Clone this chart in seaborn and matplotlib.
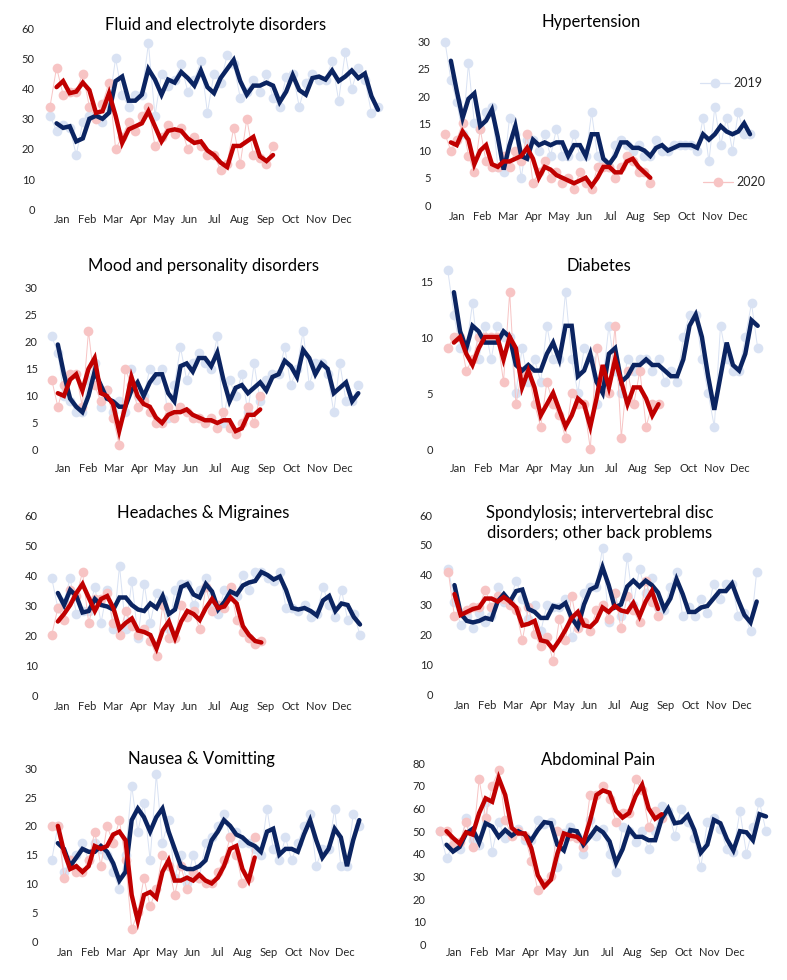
import numpy as np
import pandas as pd
import matplotlib
matplotlib.use("Agg")
import matplotlib.pyplot as plt
import seaborn as sns
from matplotlib.lines import Line2D

sns.set_theme(style="white")
plt.rcParams['font.family'] = ['Lato', 'DejaVu Sans']

MONTHS = ["Jan", "Feb", "Mar", "Apr", "May", "Jun", "Jul", "Aug", "Sep", "Oct", "Nov", "Dec"]

fluid_2019 = [31,26,28,27,18,29,31,31,29,35,50,38,34,38,38,55,31,45,41,43,48,39,43,49,32,45,42,51,48,37,
              39,43,39,45,37,34,44,45,34,42,45,43,43,49,36,52,40,47,43,32,34]
fluid_2020 = [34,47,38,39,39,45,34,30,35,42,20,24,29,26,31,34,21,24,28,25,27,20,24,21,18,18,13,15,27,15,
              30,18,17,15,21]

hyper_2019 = [30,23,19,13,26,15,14,17,18,7,6,16,13,5,12,12,10,13,9,14,9,9,13,9,9,17,9,8,7,11,
              12,11,10,11,9,9,12,10,10,11,11,11,11,10,16,8,18,11,16,10,17,13,13]
hyper_2020 = [13,10,12,15,9,6,14,8,7,7,9,7,10,8,13,4,6,8,5,6,4,5,3,6,4,3,7,7,7,5,7,9,8,6,6,4]

mood_2019 = [21,18,10,9,7,7,13,16,8,11,7,9,7,15,10,10,15,13,15,6,12,19,13,16,18,16,15,21,5,13,
             10,14,7,16,9,13,14,14,19,12,15,22,12,16,16,14,7,16,9,9,12]
mood_2020 = [13,8,12,14,14,8,22,12,9,11,6,1,15,12,8,9,7,5,5,8,6,8,7,6,6,5,6,4,7,4,3,5,8,5,10]

diab_2019 = [16,12,9,9,13,8,11,8,11,10,10,5,9,6,8,6,11,8,8,14,8,5,9,8,4,6,11,7,5,8,
             7,8,8,7,8,6,7,6,10,12,12,8,5,2,11,8,7,7,10,13,9]
diab_2020 = [9,10,10,7,8,10,10,10,10,6,14,4,7,7,4,2,6,4,3,1,5,4,4,0,9,6,5,11,1,7,4,7,2,4,4]

head_2019 = [39,29,31,39,27,28,28,36,24,35,22,43,22,38,19,37,24,34,32,22,35,37,37,30,35,39,30,27,35,34,
             33,40,35,41,41,39,38,41,29,29,28,30,26,27,36,30,26,35,25,27,20]
head_2020 = [20,29,25,35,33,41,24,32,32,34,24,20,28,23,20,22,18,13,30,19,19,30,26,28,22,36,28,30,29,36,
             25,21,19,17,18]

spond_2019 = [42,31,23,26,22,27,24,26,36,31,31,38,32,25,30,21,30,29,29,32,19,26,34,36,36,49,24,34,26,46,
              30,42,34,39,29,28,36,41,26,29,26,32,27,37,32,37,37,26,27,21,41]
spond_2020 = [41,26,27,28,29,29,35,29,33,32,30,28,18,29,20,16,19,11,25,18,33,22,24,21,28,30,25,34,22,33,
              28,24,38,31,26]

naus_2019 = [14,20,12,14,15,17,14,17,16,15,12,9,15,27,19,24,14,29,17,21,11,15,10,15,11,17,18,20,22,18,
             19,17,17,16,15,23,16,14,18,14,17,20,22,13,16,16,23,13,13,22,20]
naus_2020 = [20,20,11,14,12,12,14,19,13,20,17,21,14,2,5,11,6,9,15,13,8,13,9,12,11,10,10,12,14,18,
             15,10,11,18]

abd_2019 = [50,38,44,42,56,46,44,63,41,54,47,49,51,46,46,55,53,54,34,49,52,48,40,55,48,51,40,32,52,50,
            45,50,42,50,61,59,48,60,54,47,34,54,56,51,42,41,59,40,52,63,50]
abd_2020 = [50,50,44,45,54,43,73,56,70,77,55,48,50,48,37,24,27,30,50,48,48,47,43,66,66,70,64,54,58,58,
            73,68,52,59,56]

TITLES = ["Fluid and electrolyte disorders", "Hypertension", "Mood and personality disorders", "Diabetes",
          "Headaches & Migraines", "Spondylosis; intervertebral disc\ndisorders; other back problems",
          "Nausea & Vomitting", "Abdominal Pain"]
SERIES = [(fluid_2019, fluid_2020), (hyper_2019, hyper_2020), (mood_2019, mood_2020), (diab_2019, diab_2020),
          (head_2019, head_2020), (spond_2019, spond_2020), (naus_2019, naus_2020), (abd_2019, abd_2020)]
Y_MAX = [60, 30, 30, 15, 60, 60, 30, 80]
Y_STEP = [10, 5, 5, 5, 10, 10, 5, 10]

# layout (pixels)
LAYOUT = [
    dict(x0=50, x1=378, ytop=28.3, y0=209.3, lab=35, right=385, jan=62, dec=342, my=219, tx=216, ty=25),
    dict(x0=445, x1=750, ytop=41.7, y0=205, lab=431, right=785, jan=456.7, dec=738.3, my=216, tx=591, ty=22),
    dict(x0=51.7, x1=358.3, ytop=287.7, y0=450, lab=38, right=385, jan=63, dec=343, my=468, tx=203, ty=266),
    dict(x0=447.7, x1=757.7, ytop=281, y0=449, lab=433, right=785, jan=458, dec=740, my=468, tx=599, ty=266),
    dict(x0=51.7, x1=360, ytop=515, y0=695, lab=38, right=385, jan=62, dec=342, my=706, tx=203, ty=513),
    dict(x0=448.3, x1=756.7, ytop=515, y0=694, lab=433, right=785, jan=462, dec=742, my=705, tx=600, ty=523),
    dict(x0=51.7, x1=359.3, ytop=768.3, y0=941, lab=38, right=385, jan=65, dec=345, my=952, tx=201, ty=759),
    dict(x0=440, x1=766, ytop=763.3, y0=944.3, lab=426, right=785, jan=454, dec=735, my=952, tx=598, ty=760),
]

C19L = "#D9E2F3"
C20L = "#F7C4C4"
C19D = "#0B2461"
C20D = "#C00000"
TXT = "#262626"

W, H = 787, 980
fig = plt.figure(figsize=(W / 100, H / 100), dpi=100)
fig.patch.set_facecolor("white")

for i, ((d19, d20), title, ymax, ystep, L) in enumerate(zip(SERIES, TITLES, Y_MAX, Y_STEP, LAYOUT)):
    n = len(d19)
    sp = (L['x1'] - L['x0']) / (n - 1)
    left = L['lab'] + 4
    ax = fig.add_axes([left / W, 1 - L['y0'] / H, (L['right'] - left) / W, (L['y0'] - L['ytop']) / H])
    ax.patch.set_alpha(0)

    df19 = pd.DataFrame({'week': np.arange(len(d19)), 'count': d19})
    df20 = pd.DataFrame({'week': np.arange(len(d20)), 'count': d20})
    df19['smooth'] = df19['count'].rolling(2).mean()
    df20['smooth'] = df20['count'].rolling(2).mean()

    sns.lineplot(data=df19, x='week', y='count', color=C19L, lw=0.7, marker='o', markersize=7,
                 markeredgewidth=0, ax=ax, zorder=1, clip_on=False)
    sns.lineplot(data=df20, x='week', y='count', color=C20L, lw=0.7, marker='o', markersize=7,
                 markeredgewidth=0, ax=ax, zorder=2, clip_on=False)
    sns.lineplot(data=df19.dropna(), x='week', y='smooth', color=C19D, lw=3.2, ax=ax, zorder=3,
                 clip_on=False, solid_joinstyle='miter')
    sns.lineplot(data=df20.dropna(), x='week', y='smooth', color=C20D, lw=3.2, ax=ax, zorder=4,
                 clip_on=False, solid_joinstyle='miter')

    ax.set_xlim((left - L['x0']) / sp, (L['right'] - L['x0']) / sp)
    ax.set_ylim(0, ymax)
    ax.set_yticks(np.arange(0, ymax + 1, ystep))
    ticks = np.linspace((L['jan'] - L['x0']) / sp, (L['dec'] - L['x0']) / sp, 12)
    ax.set_xticks(ticks)
    ax.set_xticklabels(MONTHS)
    ax.tick_params(axis='x', length=0, pad=max((L['my'] - L['y0'] - 5) * 0.72, 0), labelsize=8, colors=TXT)
    ax.tick_params(axis='y', length=0, pad=3, labelsize=8, colors=TXT)
    for s in ax.spines.values():
        s.set_visible(False)
    ax.set_xlabel('')
    ax.set_ylabel('')
    ax.grid(False)

    fig.text(L['tx'] / W, 1 - L['ty'] / H, title, ha='center', va='center', fontsize=12,
             color='black', linespacing=1.25)

    if i == 1:
        axw = L['right'] - left
        axh = L['y0'] - L['ytop']
        h19 = Line2D([], [], color=C19L, lw=0.9, marker='o', markersize=7, markeredgewidth=0)
        h20 = Line2D([], [], color=C20L, lw=0.9, marker='o', markersize=7, markeredgewidth=0)
        leg1 = ax.legend([h19], ['2019'], loc='center left', frameon=False, fontsize=9,
                         bbox_to_anchor=((700 - left) / axw, (L['y0'] - 83) / axh),
                         borderpad=0, borderaxespad=0, handlelength=2.4, handletextpad=0.25)
        for t in leg1.get_texts():
            t.set_color(TXT)
        ax.add_artist(leg1)
        leg2 = ax.legend([h20], ['2020'], loc='center left', frameon=False, fontsize=9,
                         bbox_to_anchor=((703 - left) / axw, (L['y0'] - 182) / axh),
                         borderpad=0, borderaxespad=0, handlelength=2.4, handletextpad=0.25)
        for t in leg2.get_texts():
            t.set_color(TXT)

fig.savefig("out.png", dpi=100, facecolor="white")
